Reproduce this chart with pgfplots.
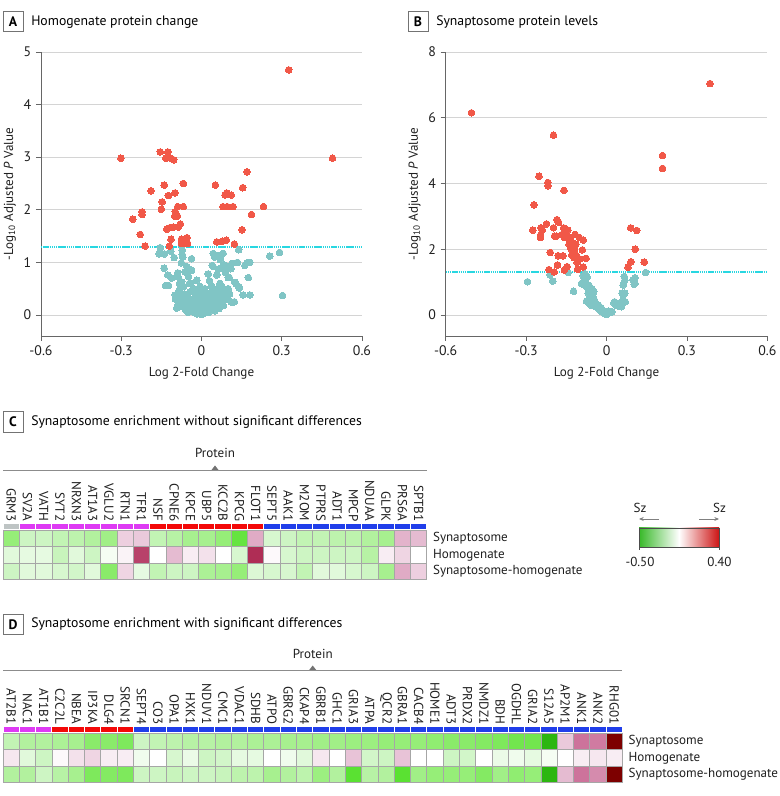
\documentclass[border=0pt]{standalone}
\usepackage{fontspec}
\setmainfont{PT Sans}
\usepackage{pgfplots}
\usepackage{pgfplotstable}
\pgfplotsset{compat=1.18}
\usetikzlibrary{arrows.meta}
\newcommand{\fs}{\fontsize{9.8pt}{11pt}\selectfont}
\newcommand{\fk}{\fontsize{10.4pt}{12pt}\selectfont}
\newcommand{\ft}{\fontsize{10.3pt}{12pt}\selectfont}
\definecolor{redc}{RGB}{241,88,72}
\definecolor{tealc}{RGB}{128,197,197}
\definecolor{thrc}{RGB}{40,215,225}
\definecolor{catg}{RGB}{190,196,196}
\definecolor{catm}{RGB}{222,58,244}
\definecolor{catr}{RGB}{243,8,8}
\definecolor{catb}{RGB}{32,62,234}
\definecolor{cbg}{RGB}{55,185,40}
\definecolor{cbr}{RGB}{205,20,20}
\pgfdeclareplotmark{stripmark}{\pgfpathrectangle{\pgfpoint{-6.11pt}{-2.3pt}}{\pgfpoint{12.22pt}{4.6pt}}\pgfusepathqfillstroke}
\pgfplotsset{
  colormap={hm}{rgb255(0cm)=(20,150,0); rgb255(1cm)=(50,190,20); rgb255(2cm)=(90,225,50); rgb255(3cm)=(150,238,120); rgb255(4cm)=(205,245,195); rgb255(5cm)=(255,255,255); rgb255(6cm)=(232,195,215); rgb255(7cm)=(205,115,155); rgb255(8cm)=(175,45,85); rgb255(9cm)=(125,0,0)},
  volc/.style={
    anchor=south west, scale only axis, width=240.75pt, height=213pt,
    xmin=-0.6, xmax=0.6, axis x line*=bottom, axis y line*=left,
    axis line style={draw=black!60, line width=0.6pt},
    xtick={-0.6,-0.3,0,0.3,0.6},
    ymajorgrids, grid style={draw=black!17, line width=0.6pt},
    tick align=outside, major tick length=3.75pt,
    tick style={draw=black!60, line width=0.6pt},
    tick label style={font=\fk, text=black!88},
    label style={font=\fs, text=black!88},
    /pgf/number format/assume math mode=true,
    xlabel={Log 2-Fold Change},
    ylabel={-Log\textsubscript{10} Adjusted \textit{P} Value},
    ylabel style={yshift=-1pt},
    xlabel style={yshift=-2pt},
  },
  redm/.style={color=redc, only marks, mark=*, mark size=2.5pt, mark options={draw=redc, line width=0pt, fill=redc}},
  tealm/.style={color=tealc, only marks, mark=*, mark size=2.5pt, mark options={draw=tealc, line width=0pt, fill=tealc}},
  thr/.style={color=thrc, no marks, line width=1.2pt, dash pattern=on 1.1pt off 0.5pt},
  heat/.style={
    anchor=south west, scale only axis, height=41.81pt,
    xmin=-0.5, ymin=-0.5, ymax=2.92,
    axis line style={draw=none}, tick style={draw=none}, major tick length=0pt,
    xticklabel pos=upper, ytick={0,1,2},
    yticklabels={Synaptosome-homogenate,Homogenate,Synaptosome},
    yticklabel pos=right,
    xticklabel style={rotate=-90, anchor=east, font=\fs, inner sep=1.5pt, text=black!88},
    yticklabel style={anchor=west, font=\fs, inner sep=0pt, xshift=4.5pt, text=black!88},
    colormap name=hm, point meta min=-0.5, point meta max=0.4,
    clip=false,
  },
  cell/.style={scatter, only marks, mark=square*, mark size=6.11pt, point meta=explicit,
    scatter/use mapped color={draw=black!35, fill=mapped color}, line width=0.5pt},
  strip/.style={only marks, mark=stripmark, mark options={fill=#1, draw=white, line width=0.7pt}},
}
\pgfplotstableread{
x name s h d
0 GRM3 -0.20 -0.06 -0.10
1 SV2A -0.10 -0.05 -0.06
2 VATH -0.10 -0.05 -0.06
3 SYT2 -0.12 -0.11 -0.08
4 NRXN3 -0.13 -0.06 -0.09
5 AT1A3 -0.15 -0.10 -0.06
6 VGLU2 -0.18 -0.02 -0.22
7 RTN1 0.08 0.02 0.07
8 TFR1 0.09 0.27 -0.05
9 NSF -0.12 0.00 -0.12
10 CPNE6 -0.14 0.11 -0.10
11 KPCE -0.17 0.03 -0.10
12 UBP5 -0.17 0.05 -0.16
13 KCC2B -0.20 0.00 -0.17
14 KPCG -0.28 -0.08 -0.20
15 FLOT1 0.13 0.30 -0.07
16 SEPT5 -0.08 0.01 -0.08
17 AAK1 -0.10 -0.08 -0.08
18 M2OM -0.12 -0.10 -0.12
19 PTPRS -0.12 -0.10 -0.06
20 ADT1 -0.13 -0.10 -0.06
21 MPCP -0.13 -0.10 -0.08
22 NDUAA -0.15 -0.14 -0.10
23 GLPK -0.17 0.03 -0.17
24 PRS6A 0.12 0.07 0.13
25 SPTB1 0.11 0.00 0.08
}\tabC
\pgfplotstableread{
x name s h d
0 AT2B1 -0.12 0.04 -0.15
1 NAC1 -0.15 -0.06 -0.15
2 AT1B1 -0.15 -0.10 -0.10
3 C2C2L -0.16 0.01 -0.14
4 NBEA -0.17 0.05 -0.17
5 IP3KA -0.22 0.07 -0.24
6 DLG4 -0.22 0.03 -0.23
7 SRCN1 -0.24 0.03 -0.24
8 SEPT4 -0.10 -0.03 -0.10
9 CO3 -0.12 0.00 -0.10
10 OPA1 -0.13 -0.08 -0.11
11 HXK1 -0.14 -0.04 -0.10
12 NDUV1 -0.14 -0.10 -0.10
13 CMC1 -0.15 -0.09 -0.11
14 VDAC1 -0.15 -0.05 -0.13
15 SDHB -0.16 -0.05 -0.13
16 ATPO -0.16 0.00 -0.17
17 GBRG2 -0.17 -0.03 -0.15
18 CKAP4 -0.17 -0.06 -0.13
19 GBRB1 -0.18 0.04 -0.19
20 GHC1 -0.18 0.00 -0.15
21 GRIA3 -0.19 0.10 -0.30
22 ATPA -0.19 -0.09 -0.14
23 QCR2 -0.20 -0.10 -0.15
24 GBRA1 -0.20 0.10 -0.30
25 CACB4 -0.20 0.00 -0.18
26 HOME1 -0.21 0.00 -0.20
27 ADT3 -0.22 -0.10 -0.20
28 PRDX2 -0.22 -0.09 -0.20
29 NMDZ1 -0.23 0.00 -0.23
30 BDH -0.24 -0.04 -0.18
31 OGDHL -0.26 -0.03 -0.21
32 GRIA2 -0.26 -0.05 -0.20
33 S12A5 -0.42 -0.02 -0.42
34 AP2M1 0.09 0.00 0.11
35 ANK1 0.20 0.03 0.20
36 ANK2 0.19 0.04 0.17
37 RHG01 0.40 0.03 0.40
}\tabD
\begin{document}
\begin{tikzpicture}
\path[use as bounding box] (0,0) rectangle (585pt,597pt);
% ---------- Panel A
\begin{axis}[volc, at={(30.75pt,345pt)}, ymin=-0.4, ymax=5, ytick={0,1,2,3,4,5}]
\addplot[tealm] table {
x y
-0.154 1.28
-0.158 1.16
-0.139 1.16
-0.115 1.21
-0.102 1.09
-0.072 1.23
-0.072 1.15
-0.070 1.10
-0.037 1.07
-0.075 0.99
-0.140 0.89
-0.126 0.76
-0.111 0.70
-0.134 0.56
-0.123 0.56
-0.089 0.80
-0.087 0.72
-0.074 0.63
-0.062 0.82
-0.055 0.92
-0.049 0.73
-0.045 0.60
-0.066 0.54
-0.080 0.51
-0.098 0.38
-0.093 0.29
-0.074 0.35
-0.062 0.29
-0.053 0.19
-0.043 0.13
-0.030 0.06
-0.018 0.02
-0.093 0.13
-0.074 0.16
-0.058 0.09
-0.043 0.44
-0.024 0.41
-0.011 0.32
-0.005 0.22
0.007 0.16
0.020 0.09
0.026 0.25
-0.005 0.54
0.007 0.44
-0.018 0.66
-0.037 0.85
-0.097 0.30
-0.085 0.45
-0.080 0.25
-0.070 0.20
-0.065 0.40
-0.060 0.12
-0.055 0.33
-0.050 0.05
-0.047 0.25
-0.040 0.18
-0.035 0.30
-0.033 0.10
-0.028 0.22
-0.025 0.04
-0.020 0.14
-0.015 0.28
-0.012 0.08
-0.008 0.03
-0.005 0.12
0.000 0.01
0.003 0.06
0.006 0.02
0.010 0.10
0.012 0.04
0.015 0.20
0.018 0.07
0.022 0.14
0.025 0.33
0.028 0.05
0.030 0.18
0.033 0.38
0.035 0.10
0.038 0.27
0.040 0.45
0.042 0.15
0.045 0.22
0.048 0.33
0.050 0.08
0.052 0.40
0.055 0.25
0.058 0.17
0.060 0.50
0.062 0.30
0.065 0.12
0.068 0.42
0.070 0.22
0.073 0.35
0.075 0.55
0.078 0.28
0.082 0.18
0.085 0.45
0.090 0.38
0.095 0.30
0.100 0.50
0.105 0.40
0.110 0.25
-0.010 0.45
-0.002 0.38
0.005 0.30
0.012 0.50
0.018 0.42
-0.030 0.50
-0.040 0.60
-0.088 0.20
-0.082 0.60
0.044 1.17
0.063 1.13
0.073 1.13
0.081 1.17
0.139 1.24
0.044 0.92
0.040 0.94
0.094 0.92
0.114 0.98
0.134 1.00
0.170 0.99
0.181 1.00
0.162 0.94
0.255 1.12
0.292 1.19
0.303 0.37
0.063 0.87
0.100 0.71
0.128 0.60
0.175 0.71
0.156 0.38
0.181 0.38
0.123 0.25
0.025 0.78
0.037 0.56
0.139 0.54
0.069 0.60
0.057 0.76
0.075 0.89
0.104 0.71
0.124 0.62
0.141 0.51
0.119 0.24
0.050 1.10
0.070 1.05
0.085 0.95
0.030 0.65
0.090 0.80
0.110 0.88
};
\addplot[thr] coordinates {(-0.6,1.29) (0.6,1.29)};
\addplot[redm] table {
x y
0.326 4.66
0.490 2.98
-0.301 2.98
-0.154 3.10
-0.126 3.10
-0.134 2.98
-0.116 2.98
-0.104 2.95
0.170 2.72
-0.139 2.47
-0.068 2.50
0.052 2.47
-0.189 2.36
-0.099 2.32
-0.124 2.27
0.094 2.32
0.088 2.28
0.111 2.28
0.154 2.42
-0.147 2.15
-0.089 2.06
-0.068 2.06
-0.150 2.01
0.080 2.06
0.096 2.06
0.118 2.06
0.232 2.06
-0.222 1.96
-0.222 1.91
-0.098 1.96
-0.100 1.88
-0.090 1.88
0.187 1.91
-0.257 1.82
-0.079 1.73
-0.087 1.67
-0.130 1.63
-0.118 1.66
-0.106 1.67
0.152 1.62
-0.229 1.53
-0.114 1.44
-0.075 1.44
-0.054 1.47
-0.075 1.36
-0.052 1.36
0.057 1.39
0.078 1.40
0.093 1.42
0.123 1.35
-0.211 1.31
-0.120 1.31
-0.064 1.36
};
\end{axis}
% ---------- Panel B
\begin{axis}[volc, at={(334.3pt,345pt)}, width=241.2pt, ymin=-0.64, ymax=8, ytick={0,2,4,6,8}]
\addplot[tealm] table {
x y
-0.295 1.01
-0.201 1.03
-0.211 1.22
-0.143 1.29
-0.123 0.72
-0.087 1.19
-0.081 1.09
-0.093 0.96
-0.075 0.86
-0.068 0.66
-0.062 0.55
-0.056 0.45
-0.050 0.35
-0.044 0.27
-0.031 0.20
-0.019 0.10
-0.006 0.05
-0.080 1.25
-0.072 1.15
-0.078 1.00
-0.065 0.90
-0.085 0.92
-0.060 0.75
-0.055 0.80
-0.070 0.40
-0.075 0.42
-0.065 0.35
-0.058 0.30
-0.050 0.55
-0.045 0.45
-0.040 0.35
-0.038 0.25
-0.030 0.30
-0.025 0.15
-0.020 0.22
-0.012 0.12
-0.010 0.05
-0.003 0.02
0.003 0.03
0.010 0.06
0.015 0.08
0.020 0.10
0.008 0.12
-0.060 0.65
-0.052 0.62
-0.048 0.70
0.027 0.37
0.035 0.30
0.045 0.32
0.050 0.35
0.055 0.25
0.060 0.38
0.062 0.46
0.058 0.66
0.068 0.66
0.062 0.91
0.066 1.17
0.068 1.05
0.106 1.13
0.103 0.93
0.099 1.07
0.106 0.96
0.146 1.29
0.070 0.40
0.030 0.40
0.040 0.28
};
\addplot[thr] coordinates {(-0.6,1.301) (0.6,1.301)};
\addplot[redm] table {
x y
0.386 7.04
-0.504 6.15
-0.198 5.47
0.209 4.85
0.209 4.46
-0.252 4.22
-0.219 4.03
-0.219 3.93
-0.159 3.79
-0.271 3.35
-0.185 2.90
-0.179 2.82
-0.224 2.77
-0.275 2.58
-0.245 2.65
-0.240 2.58
-0.198 2.65
-0.246 2.36
-0.246 2.43
-0.194 2.40
-0.187 2.40
-0.160 2.65
-0.153 2.53
-0.144 2.58
-0.165 2.45
-0.158 2.36
-0.147 2.40
-0.135 2.36
-0.117 2.45
-0.102 2.36
-0.087 2.28
-0.137 2.28
-0.130 2.20
-0.125 2.10
-0.135 2.05
-0.120 2.00
-0.128 1.95
-0.118 1.88
-0.130 1.82
-0.122 1.75
-0.110 1.78
-0.090 1.98
-0.076 1.72
-0.100 1.70
-0.115 2.15
-0.140 2.15
0.090 2.65
0.113 2.57
0.107 2.00
0.091 1.62
0.141 1.61
0.080 1.45
-0.210 1.90
-0.180 1.80
-0.163 1.80
-0.183 1.52
-0.215 1.38
-0.195 1.31
-0.147 1.47
-0.157 1.37
-0.108 1.39
-0.087 1.46
-0.110 1.60
};
\end{axis}
% ---------- Panel C heatmap
\begin{axis}[heat, at={(2.25pt,162.5pt)}, width=317.85pt, xmax=25.5,
  xtick={0,...,25}, xticklabels from table={\tabC}{name}]
\addplot[cell] table[x=x, y expr=2, meta=s] {\tabC};
\addplot[cell] table[x=x, y expr=1, meta=h] {\tabC};
\addplot[cell] table[x=x, y expr=0, meta=d] {\tabC};
\addplot[strip=catg] coordinates {(0,2.73)};
\addplot[strip=catm] coordinates {(1,2.73)(2,2.73)(3,2.73)(4,2.73)(5,2.73)(6,2.73)(7,2.73)(8,2.73)};
\addplot[strip=catr] coordinates {(9,2.73)(10,2.73)(11,2.73)(12,2.73)(13,2.73)(14,2.73)(15,2.73)};
\addplot[strip=catb] coordinates {(16,2.73)(17,2.73)(18,2.73)(19,2.73)(20,2.73)(21,2.73)(22,2.73)(23,2.73)(24,2.73)(25,2.73)};
\end{axis}
% ---------- Panel D heatmap
\begin{axis}[heat, at={(2.25pt,10.3pt)}, width=464.55pt, xmax=37.5,
  xtick={0,...,37}, xticklabels from table={\tabD}{name}]
\addplot[cell] table[x=x, y expr=2, meta=s] {\tabD};
\addplot[cell] table[x=x, y expr=1, meta=h] {\tabD};
\addplot[cell] table[x=x, y expr=0, meta=d] {\tabD};
\addplot[strip=catm] coordinates {(0,2.73)(1,2.73)(2,2.73)};
\addplot[strip=catr] coordinates {(3,2.73)(4,2.73)(5,2.73)(6,2.73)(7,2.73)};
\addplot[strip=catb] coordinates {(8,2.73)(9,2.73)(10,2.73)(11,2.73)(12,2.73)(13,2.73)(14,2.73)(15,2.73)(16,2.73)(17,2.73)(18,2.73)(19,2.73)(20,2.73)(21,2.73)(22,2.73)(23,2.73)(24,2.73)(25,2.73)(26,2.73)(27,2.73)(28,2.73)(29,2.73)(30,2.73)(31,2.73)(32,2.73)(33,2.73)(34,2.73)(35,2.73)(36,2.73)(37,2.73)};
\end{axis}
% ---------- annotations in pixel coordinates
\begin{scope}[x=0.75pt, y=-0.75pt, yshift=597pt]
\tikzset{pbox/.style={draw=black!55, line width=0.5pt, minimum width=15pt, minimum height=15.5pt, inner sep=0pt, font=\ft\bfseries}}
\node[pbox] at (13,21.5) {A};
\node[anchor=west, font=\ft, inner sep=0pt] at (31,22) {Homogenate protein change};
\node[pbox] at (418,21.5) {B};
\node[anchor=west, font=\ft, inner sep=0pt] at (436,22) {Synaptosome protein levels};
\node[pbox] at (13,422) {C};
\node[anchor=west, font=\ft, inner sep=0pt] at (31,422) {Synaptosome enrichment without significant differences};
\node[pbox] at (13,624.5) {D};
\node[anchor=west, font=\ft, inner sep=0pt] at (31,624) {Synaptosome enrichment with significant differences};
\node[font=\fs, text=black!88] at (215,453) {Protein};
\draw[black!45, line width=0.6pt] (3,470) -- (427,470);
\fill[black!55] (211.5,470) -- (218.5,470) -- (215,465.5) -- cycle;
\node[font=\fs, text=black!88] at (312.7,654) {Protein};
\draw[black!45, line width=0.6pt] (3,670) -- (622,670);
\fill[black!55] (309.2,670) -- (316.2,670) -- (312.7,665.5) -- cycle;
% colour scale
\shade[left color=cbg, right color=cbr, middle color=white] (639,528) rectangle (719,547);
\draw[black!70, line width=0.5pt] (639,528) rectangle (719,547);
\draw[black!70, line width=0.5pt] (639,547) -- (639,550) (719,547) -- (719,550);
\node[font=\fs, text=black!88] at (640,562) {-0.50};
\node[font=\fs, text=black!88] at (719.5,562) {0.40};
\node[font=\fs, text=black!88] at (640,508) {Sz};
\node[font=\fs, text=black!88] at (719.5,508) {Sz};
\draw[black!50, line width=0.6pt, -{Stealth[length=3.5pt,width=3pt]}] (659,519) -- (639,519);
\draw[black!50, line width=0.6pt, -{Stealth[length=3.5pt,width=3pt]}] (699,519) -- (719,519);
\end{scope}
\end{tikzpicture}
\end{document}
